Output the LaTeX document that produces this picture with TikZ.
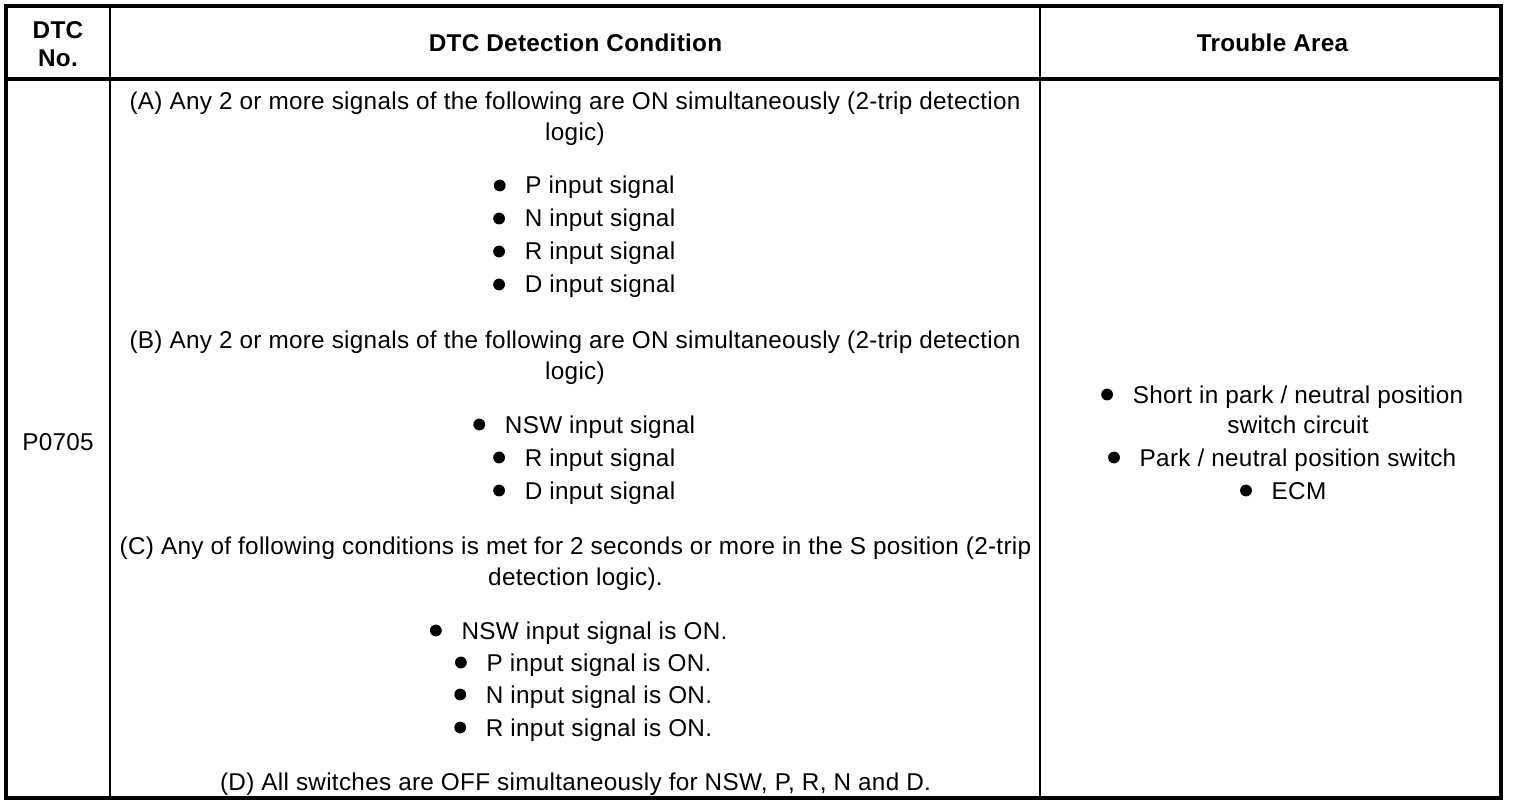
\documentclass[tikz,border=0pt]{standalone}
\usepackage{fontspec}
\setmainfont{Liberation Sans}[LetterSpace=1.2]
\begin{document}
\begin{tikzpicture}[x=1pt,y=-1pt,
  txt/.style={inner sep=0pt, anchor=base, font=\fontsize{24.3}{30}\selectfont},
  hdr/.style={inner sep=0pt, anchor=base, font=\fontsize{24.3}{30}\selectfont\bfseries},
  thinrule/.style={line width=1.5pt},
  thickrule/.style={line width=3.5pt},
  frame/.style={line width=4pt}]
\newcommand\bul[1]{\fill ([xshift=-25.5pt,yshift=8.5pt]#1.base west) circle (5.9pt);}
\useasboundingbox (0,0) rectangle (1520,810);
% table rules
\coordinate (tl) at (6,6);
\coordinate (br) at (1501,797.5);
\draw[thickrule] (6,79) -- (1501,79);
\draw[thinrule] (110,6) -- (110,797.5);
\draw[thinrule] (1040,6) -- (1040,797.5);
\draw[frame] (tl) rectangle (br);
% header
\node[hdr] (h1a) at (58,39) {DTC};
\node[hdr] (h1b) at (58,67) {No.};
\node[hdr] (h2) at (575.5,52) {DTC Detection Condition};
\node[hdr] (h3) at (1272.5,52) {Trouble Area};
% column 1
\node[txt] (dtc) at (58,450) {P0705};
% column 2
\node[txt] (a1) at (575,110) {(A) Any 2 or more signals of the following are ON simultaneously (2-trip detection};
\node[txt] (a2) at (575,141) {logic)};
\node[txt] (ap) at (600,194) {P input signal};
\node[txt] (an) at (600,227) {N input signal};
\node[txt] (ar) at (600,260) {R input signal};
\node[txt] (ad) at (600,293) {D input signal};
\bul{ap}\bul{an}\bul{ar}\bul{ad}
\node[txt] (b1) at (575,348) {(B) Any 2 or more signals of the following are ON simultaneously (2-trip detection};
\node[txt] (b2) at (575,379) {logic)};
\node[txt] (bn) at (600,433) {NSW input signal};
\node[txt] (br2) at (600,466) {R input signal};
\node[txt] (bd) at (600,499) {D input signal};
\bul{bn}\bul{br2}\bul{bd}
\node[txt] (c1) at (575.5,554) {(C) Any of following conditions is met for 2 seconds or more in the S position (2-trip};
\node[txt] (c2) at (575.5,585) {detection logic).};
\node[txt] (cn) at (594.5,639) {NSW input signal is ON.};
\node[txt] (cp) at (599,671) {P input signal is ON.};
\node[txt] (cnn) at (599,703) {N input signal is ON.};
\node[txt] (cr) at (599,736) {R input signal is ON.};
\bul{cn}\bul{cp}\bul{cnn}\bul{cr}
\node[txt] (d1) at (575.5,790) {(D) All switches are OFF simultaneously for NSW, P, R, N and D.};
% column 3
\node[txt] (t1) at (1298,403) {Short in park / neutral position};
\node[txt] (t2) at (1298,433) {switch circuit};
\node[txt] (t3) at (1298,466) {Park / neutral position switch};
\node[txt] (t4) at (1299,499) {ECM};
\bul{t1}\bul{t3}\bul{t4}
\end{tikzpicture}
\end{document}
